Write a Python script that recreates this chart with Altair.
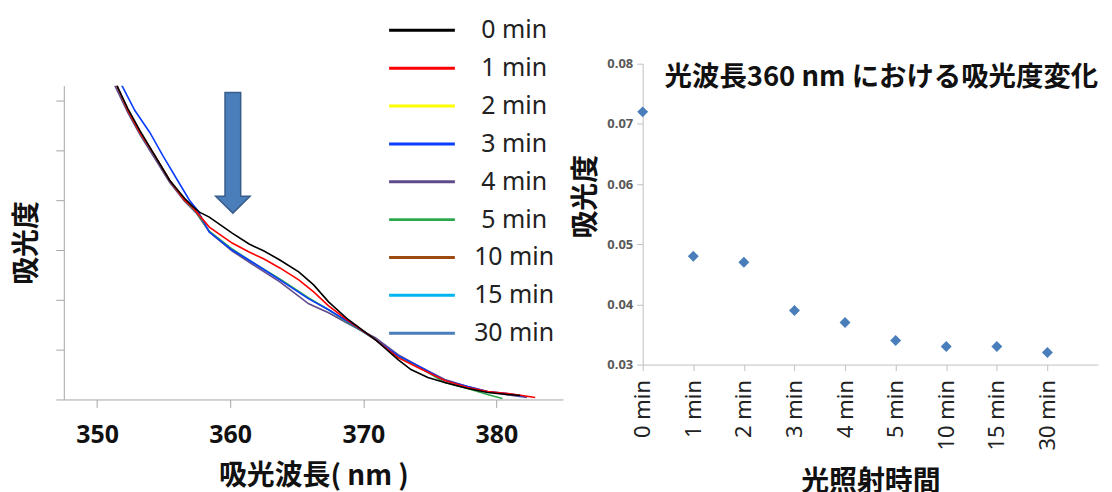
import altair as alt
import pandas as pd

# ---------------- data ----------------
series_names = ["0 min", "1 min", "2 min", "3 min", "4 min", "5 min", "10 min", "15 min", "30 min"]
series_colors = ["#000000", "#ff0000", "#ffff00", "#0a3cff", "#5f4b8b", "#2ca84c", "#9c4a12", "#00b4f0", "#4a7ebb"]

# spectra (wavelength nm, absorbance a.u.)
nm_0 = [351.49, 352.31, 353.21, 354.33, 355.45, 356.57, 357.16, 357.69, 358.43, 360.15, 361.42, 362.54,
        363.73, 365.15, 366.27, 367.39, 368.88, 370.90, 372.61, 373.58, 374.85, 376.12, 377.84, 379.33,
        380.82, 381.79]
abs_0 = [0.315, 0.292, 0.270, 0.245, 0.220, 0.202, 0.194, 0.188, 0.183, 0.167, 0.156, 0.149,
         0.140, 0.128, 0.115, 0.098, 0.080, 0.060, 0.040, 0.030, 0.022, 0.017, 0.011, 0.007,
         0.005, 0.004]

nm_1 = [351.49, 352.31, 353.21, 354.33, 355.45, 356.57, 357.16, 358.43, 360.15, 361.42, 362.54, 363.73,
        365.15, 366.27, 367.39, 368.88, 370.90, 372.61, 374.10, 376.12, 377.84, 379.33, 380.82, 381.94,
        382.91]
abs_1 = [0.315, 0.290, 0.268, 0.245, 0.220, 0.200, 0.193, 0.173, 0.157, 0.148, 0.141, 0.132,
         0.120, 0.108, 0.094, 0.079, 0.060, 0.042, 0.032, 0.019, 0.012, 0.008, 0.006, 0.004,
         0.002]

nm_3 = [351.87, 352.84, 353.96, 354.93, 356.04, 356.94, 357.54, 358.43, 360.15, 361.64, 363.73, 365.90,
        367.39, 368.88, 370.90, 372.61, 374.10, 376.12, 377.84, 379.33, 380.82, 382.16]
abs_3 = [0.315, 0.290, 0.268, 0.245, 0.220, 0.200, 0.190, 0.168, 0.150, 0.138, 0.120, 0.101,
         0.090, 0.078, 0.060, 0.044, 0.034, 0.019, 0.013, 0.008, 0.006, 0.003]

nm_4 = [351.34, 352.31, 353.21, 354.33, 355.45, 356.57, 357.46, 358.43, 360.15, 361.64, 363.73, 365.90,
        367.39, 368.88, 370.90, 372.61, 374.10, 376.12, 377.84, 379.33, 381.19, 382.31]
abs_4 = [0.315, 0.288, 0.266, 0.242, 0.218, 0.199, 0.187, 0.168, 0.149, 0.136, 0.118, 0.096,
         0.087, 0.076, 0.062, 0.045, 0.034, 0.020, 0.013, 0.008, 0.004, 0.002]

nm_5 = [351.49, 352.31, 353.21, 354.33, 355.45, 356.57, 357.46, 358.43, 360.15, 361.64, 363.73, 365.90,
        367.39, 368.88, 370.90, 372.61, 374.10, 376.12, 377.84, 379.33, 380.45]
abs_5 = [0.315, 0.290, 0.268, 0.245, 0.220, 0.200, 0.188, 0.169, 0.151, 0.138, 0.121, 0.102,
         0.090, 0.077, 0.060, 0.043, 0.033, 0.017, 0.011, 0.005, 0.001]

# arrow annotation (data units)
arrow_nm = [360.2]
arrow_abs = [0.2475]

# absorbance at 360 nm vs irradiation time
time_labels = series_names
abs_360 = [0.072, 0.048, 0.047, 0.039, 0.037, 0.034, 0.033, 0.033, 0.032]

# ---------------- tables ----------------
rows = []
for name, xs, ys in [("4 min", nm_4, abs_4), ("5 min", nm_5, abs_5), ("3 min", nm_3, abs_3),
                     ("1 min", nm_1, abs_1), ("0 min", nm_0, abs_0)]:
    for i, (x, y) in enumerate(zip(xs, ys)):
        rows.append({"series": name, "nm": x, "abs": y, "i": i})
spec_df = pd.DataFrame(rows)
arrow_df = pd.DataFrame({"nm": arrow_nm, "abs": arrow_abs})
pt_df = pd.DataFrame({"idx": list(range(len(time_labels))), "label": time_labels, "abs": abs_360})

JP = "Noto Sans CJK JP"
LAT = "Noto Sans"
AX = "#a6a6a6"

# ---------------- left panel ----------------
x_left = alt.X("nm:Q", scale=alt.Scale(domain=[347.5, 385], nice=False, zero=False),
               axis=alt.Axis(values=[350, 360, 370, 380], title="吸光波長( nm )", grid=False,
                             tickSize=8, domainColor=AX, tickColor=AX, labelFont=LAT,
                             labelFontSize=25, labelFontWeight="bold", labelColor="#111111",
                             labelPadding=15, titleFont=JP, titleFontSize=28, titleFontWeight="bold",
                             titleColor="#111111", titlePadding=15))
y_left = alt.Y("abs:Q", scale=alt.Scale(domain=[0, 0.315], nice=False),
               axis=alt.Axis(values=[0, 0.05, 0.1, 0.15, 0.2, 0.25, 0.3], labels=False, grid=False,
                             tickSize=8, domainColor=AX, tickColor=AX, title="吸光度", titleFont=JP,
                             titleFontSize=28, titleFontWeight="bold", titleColor="#111111",
                             titlePadding=14))

lines = alt.Chart(spec_df).mark_line(strokeWidth=1.6, clip=True).encode(
    x=x_left, y=y_left,
    order="i:Q",
    color=alt.Color("series:N", scale=alt.Scale(domain=series_names, range=series_colors), title=None,
                    legend=alt.Legend(orient="none", legendX=347, legendY=-46,
                                      symbolType="M-3,0L3,0", symbolSize=484, symbolStrokeWidth=3,
                                      labelFont=LAT, labelFontSize=25, labelColor="#222222",
                                      labelAlign="center", labelOffset=80, rowPadding=12,
                                      padding=0, symbolOpacity=1)),
)

arrow = alt.Chart(arrow_df).mark_point(
    shape="M-0.13,-1 L0.13,-1 L0.13,0.72 L0.285,0.72 L0,1 L-0.285,0.72 L-0.13,0.72 Z",
    size=14641, filled=True, fill="#4a7ebb", stroke="#385d8a", strokeWidth=1.5, opacity=1,
).encode(x=alt.X("nm:Q"), y=alt.Y("abs:Q"))

left_plot = alt.layer(lines, arrow).properties(width=501, height=315)

# invisible spacer that lowers the left panel relative to the right one
spacer = alt.Chart(pd.DataFrame({"s": [0]})).mark_point(opacity=0).properties(width=501, height=22)
left = alt.vconcat(spacer, left_plot, spacing=0)

# ---------------- right panel ----------------
label_expr = "[" + ",".join("'" + t + "'" for t in time_labels) + "][datum.value]"
right = alt.Chart(pt_df).mark_point(shape="diamond", size=120, filled=True, color="#4a7ebb", opacity=1).encode(
    x=alt.X("idx:Q", scale=alt.Scale(domain=[0, 9], nice=False),
            axis=alt.Axis(values=list(range(len(time_labels))), labelExpr=label_expr, labelAngle=270,
                          grid=False, tickSize=6, domainColor="#c0c0c0", tickColor="#c0c0c0",
                          labelFont=LAT, labelFontSize=22, labelColor="#222222", labelPadding=9,
                          title="光照射時間", titleFont=JP, titleFontSize=28, titleFontWeight="bold",
                          titleColor="#111111", titlePadding=19)),
    y=alt.Y("abs:Q", scale=alt.Scale(domain=[0.03, 0.08], nice=False, zero=False),
            axis=alt.Axis(values=[0.03, 0.04, 0.05, 0.06, 0.07, 0.08], format=".2f", grid=False,
                          tickSize=6, domainColor="#c0c0c0", tickColor="#c0c0c0",
                          labelFont=LAT, labelFontSize=13, labelColor="#595959", labelFontWeight="bold",
                          labelPadding=4, title="吸光度", titleFont=JP, titleFontSize=28,
                          titleFontWeight="bold", titleColor="#111111", titlePadding=6, titleY=133)),
).properties(
    width=457, height=302,
    title=alt.TitleParams(text="光波長360 nm における吸光度変化", font=JP, fontSize=27.5, fontWeight="bold",
                          color="#111111", anchor="start", frame="group", dx=22, offset=0, dy=62,
                          baseline="bottom"),
)

chart = alt.hconcat(left, right, spacing=10).properties(
    padding={"left": 5, "top": 9, "right": 5, "bottom": 0}
).configure_view(stroke=None)

chart.save("out.html", embed_options={"renderer": "svg", "actions": False})
